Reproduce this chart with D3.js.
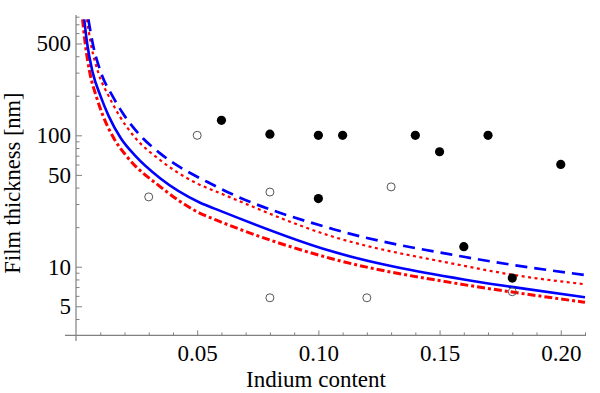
<!DOCTYPE html>
<html>
<head>
<meta charset="utf-8">
<script src="https://cdn.jsdelivr.net/npm/d3@7"></script>
<style>
body{margin:0;background:#fff;}
svg text{font-family:"Liberation Serif","Times New Roman",Times,serif;fill:#000;}
</style>
</head>
<body>
<svg id="chart"></svg>
<script>
// critical thickness curves: [indium content, thickness in nm]
const dashedCurve = [[0.0051,764],[0.0069,500],[0.0103,300],[0.0152,197],[0.0201,140],[0.0276,95],[0.0347,72.9],[0.058,40.7],[0.1062,19.3],[0.16,11.9],[0.179,10.4],[0.21,8.65]];
const dottedCurve = [[0.0045,764],[0.0061,500],[0.0092,300],[0.0136,197],[0.018,140],[0.0246,95],[0.0347,64.9],[0.0512,41.9],[0.058,37.2],[0.1048,17.2],[0.1584,10.3],[0.179,8.75],[0.21,7.35]];
const solidCurve = [[0.0034,764],[0.0046,500],[0.0069,300],[0.0102,197],[0.0135,140],[0.0185,95],[0.0244,70],[0.0347,47.1],[0.0512,30.7],[0.058,27.3],[0.1048,13.2],[0.16,8.0],[0.179,7.05],[0.21,5.85]];
const dashDotCurve = [[0.0027,764],[0.0038,500],[0.0057,300],[0.0084,197],[0.0112,140],[0.0156,95],[0.0207,70],[0.0347,40.7],[0.0512,25.5],[0.058,22.6],[0.1048,11.6],[0.159,7.35],[0.179,6.45],[0.21,5.36]];

// samples
const filledX = [0.06, 0.08, 0.10, 0.11, 0.14, 0.15, 0.17, 0.20, 0.10, 0.16, 0.18];
const filledH = [130, 102, 100, 100, 100, 75, 100, 60, 33, 14.2, 8.2];
const openX = [0.03, 0.05, 0.08, 0.13, 0.08, 0.12, 0.18];
const openH = [34, 100, 37, 40.5, 5.8, 5.8, 6.45];

// ticks
const yMajor = [5, 10, 50, 100, 500];
const yMinor = [4, 6, 7, 8, 9, 20, 30, 40, 60, 70, 80, 90, 200, 300, 400, 600, 700, 800];
const xMajor = [0.05, 0.10, 0.15, 0.20];
const xMinor = [0.01, 0.02, 0.03, 0.04, 0.06, 0.07, 0.08, 0.09, 0.11, 0.12, 0.13, 0.14, 0.16, 0.17, 0.18, 0.19, 0.21];

const width = 600, height = 393;
const axisColor = '#808080';
const serif = '"Liberation Serif", "Times New Roman", Times, serif';

const svg = d3.select('#chart')
    .attr('width', width)
    .attr('height', height);

const x = d3.scaleLinear().domain([0, 0.21]).range([76, 585]);
const y = d3.scaleLog().domain([3, 764]).range([335.4, 19.3]);

// y axis (ticks point into the plot)
const yAx = svg.append('g').attr('transform', 'translate(76,0)');
yAx.call(d3.axisLeft(y).tickValues(yMajor).tickFormat(d3.format('d')).tickSizeInner(-6).tickSizeOuter(0).tickPadding(5));
const yMin = svg.append('g').attr('transform', 'translate(76,0)');
yMin.call(d3.axisLeft(y).tickValues(yMinor).tickFormat('').tickSizeInner(-3.5).tickSizeOuter(0));

const xAx = svg.append('g').attr('transform', 'translate(0,335.4)');
xAx.call(d3.axisBottom(x).tickValues(xMajor).tickFormat(d3.format('.2f')).tickSizeInner(-5).tickSizeOuter(0).tickPadding(9));
const xMin = svg.append('g').attr('transform', 'translate(0,335.4)');
xMin.call(d3.axisBottom(x).tickValues(xMinor).tickFormat('').tickSizeInner(-3).tickSizeOuter(0));

svg.selectAll('.domain').remove();
svg.selectAll('.tick line').attr('stroke', axisColor).attr('stroke-width', 1);
svg.selectAll('.tick text')
    .attr('font-family', serif)
    .attr('font-size', 23)
    .attr('fill', '#000');

// axis lines, a little past the plot range like the original
svg.append('line').attr('x1', 76).attr('x2', 76).attr('y1', 15).attr('y2', 341)
    .attr('stroke', axisColor).attr('stroke-width', 1.2);
svg.append('line').attr('x1', 65).attr('x2', 586).attr('y1', 335.4).attr('y2', 335.4)
    .attr('stroke', axisColor).attr('stroke-width', 1.2);

// curves
const line = d3.line()
    .x(d => x(d[0]))
    .y(d => y(d[1]))
    .curve(d3.curveMonotoneX);

const curves = [
    {data: dashDotCurve, color: '#ff0000', w: 3, dash: '8,3,3,3'},
    {data: solidCurve, color: '#0000ff', w: 2.6, dash: null},
    {data: dottedCurve, color: '#ff0000', w: 2.2, dash: '3,3.5'},
    {data: dashedCurve, color: '#0000ff', w: 2.7, dash: '12,7'}
];

svg.append('g').selectAll('path')
    .data(curves)
    .enter()
    .append('path')
    .attr('d', d => line(d.data))
    .attr('fill', 'none')
    .attr('stroke', d => d.color)
    .attr('stroke-width', d => d.w)
    .attr('stroke-dasharray', d => d.dash);

// points
svg.append('g').selectAll('circle')
    .data(openX.map((v, i) => [v, openH[i]]))
    .enter()
    .append('circle')
    .attr('cx', d => x(d[0]))
    .attr('cy', d => y(d[1]))
    .attr('r', 4)
    .attr('fill', 'none')
    .attr('stroke', '#555')
    .attr('stroke-width', 1);

svg.append('g').selectAll('circle')
    .data(filledX.map((v, i) => [v, filledH[i]]))
    .enter()
    .append('circle')
    .attr('cx', d => x(d[0]))
    .attr('cy', d => y(d[1]))
    .attr('r', 4.6)
    .attr('fill', '#000');

// axis titles
svg.append('text')
    .attr('x', 316)
    .attr('y', 387)
    .attr('text-anchor', 'middle')
    .attr('font-family', serif)
    .attr('font-size', 23)
    .text('Indium content');

svg.append('text')
    .attr('transform', 'translate(20,183) rotate(-90)')
    .attr('text-anchor', 'middle')
    .attr('font-family', serif)
    .attr('font-size', 22.5)
    .text('Film thickness [nm]');
</script>
</body>
</html>
